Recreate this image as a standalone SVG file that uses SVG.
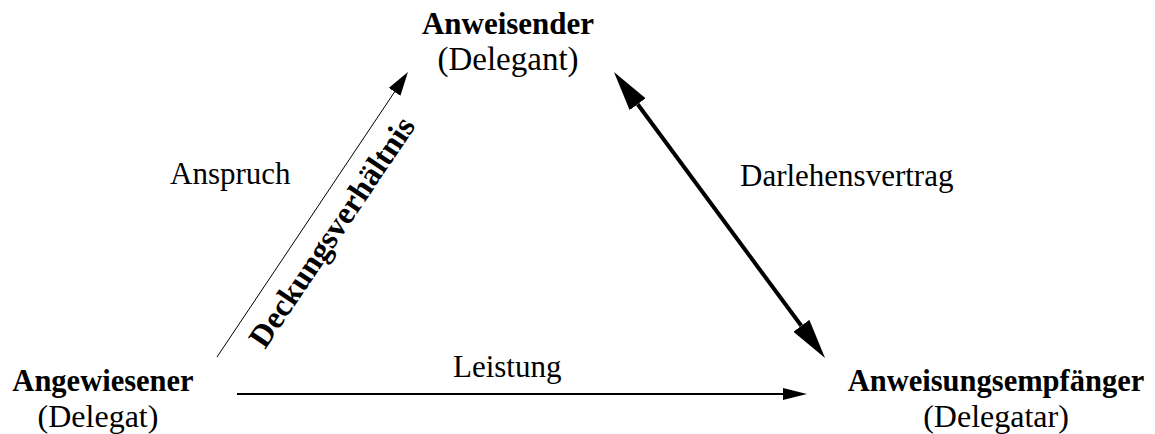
<svg xmlns="http://www.w3.org/2000/svg" width="1155" height="434" viewBox="0 0 1155 434">
<style>
text{font-family:"Liberation Serif","Times New Roman",serif;fill:#000}
.b{font-weight:bold;font-size:31px}
.r{font-size:33px}
.l{font-size:31px}
.c{text-anchor:middle}
.bn{font-size:30.5px}
.rn{font-size:32px}
line{stroke:#000;fill:none}
</style>
<defs>
<marker id="hThin" markerUnits="userSpaceOnUse" viewBox="0 0 24 14" markerWidth="24" markerHeight="14" refX="0" refY="7" orient="auto"><path d="M0,0 L24,7 L0,14 Z" fill="#000"/></marker>
<marker id="hThick" markerUnits="userSpaceOnUse" viewBox="0 0 40 20" markerWidth="40" markerHeight="20" refX="0" refY="10" orient="auto-start-reverse"><path d="M0,0 L40,10 L0,20 Z" fill="#000"/></marker>
<marker id="hMid" markerUnits="userSpaceOnUse" viewBox="0 0 24 12" markerWidth="24" markerHeight="12" refX="0" refY="6" orient="auto"><path d="M0,0 L24,6 L0,12 Z" fill="#000"/></marker>
</defs>
<g id="connectors">
<line id="deckung" x1="217" y1="357" x2="394.6" y2="91.9" stroke-width="1" marker-end="url(#hThin)"/>
<line id="darlehen" x1="637.7" y1="104.2" x2="801.3" y2="325.8" stroke-width="4" marker-start="url(#hThick)" marker-end="url(#hThick)"/>
<line id="leistung" x1="237" y1="394" x2="783" y2="394" stroke-width="2" marker-end="url(#hMid)"/>
<text class="l" x="170" y="184">Anspruch</text>
<text class="l" x="740" y="186">Darlehensvertrag</text>
<text class="l" x="453" y="377">Leistung</text>
<text class="b" style="font-size:32px" transform="translate(265,350) rotate(-56)">Deckungsverhältnis</text>
</g>
<g id="node-anweisender">
<text class="b c" x="508" y="34">Anweisender</text>
<text class="r c" x="508" y="70">(Delegant)</text>
</g>
<g id="node-angewiesener">
<text class="b bn c" x="103" y="391">Angewiesener</text>
<text class="r rn c" x="98" y="427">(Delegat)</text>
</g>
<g id="node-empfaenger">
<text class="b bn c" x="996" y="391">Anweisungsempfänger</text>
<text class="r rn c" x="996" y="427">(Delegatar)</text>
</g>
</svg>
